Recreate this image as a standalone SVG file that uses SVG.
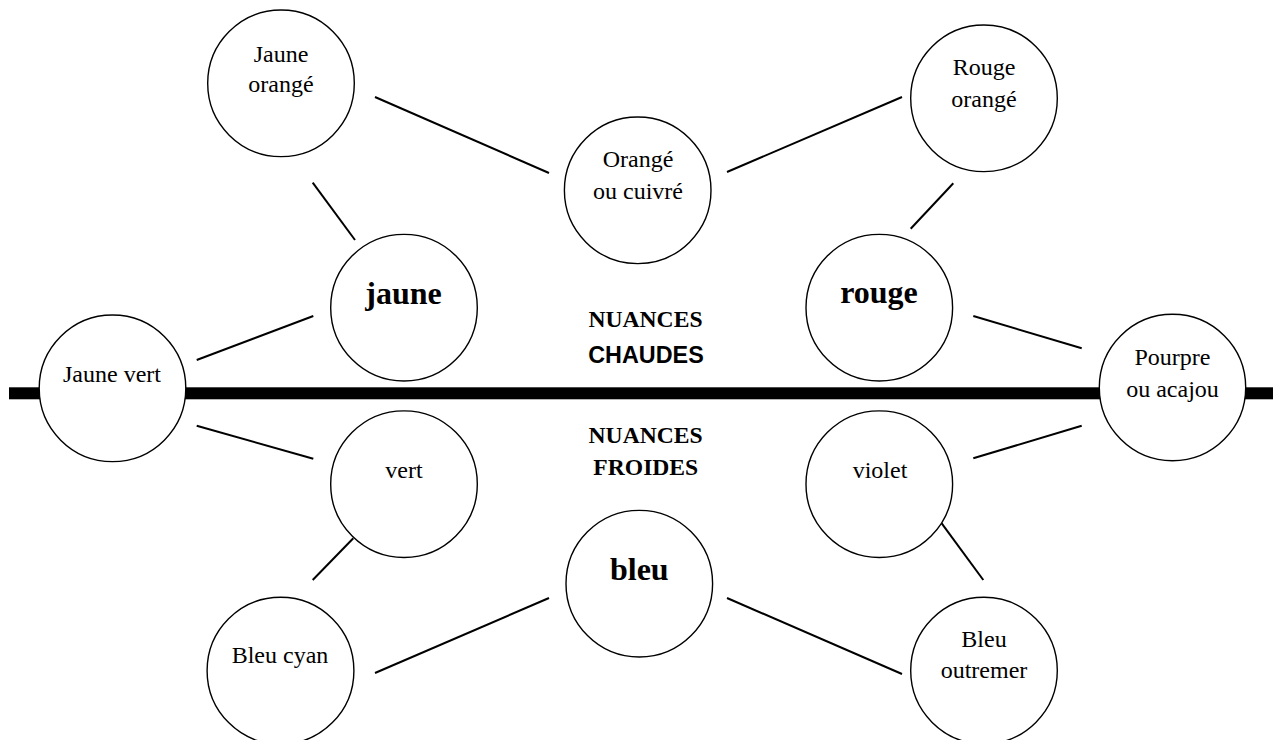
<svg xmlns="http://www.w3.org/2000/svg" width="1276" height="740" viewBox="0 0 1276 740">
<style>
.bg{fill:#fff}
.bar{fill:#000}
.c{fill:#fff;stroke:#000;stroke-width:1.4}
.ln{stroke:#000;stroke-width:2;fill:none}
.t{font-family:"Liberation Serif","Times New Roman",serif;font-size:24px;fill:#000;text-anchor:middle}
.b{font-family:"Liberation Serif","Times New Roman",serif;font-size:32px;font-weight:bold;fill:#000;text-anchor:middle}
.h{font-family:"Liberation Serif","Times New Roman",serif;font-size:23.6px;font-weight:bold;fill:#000;text-anchor:middle}
.s{font-family:"Liberation Sans",Arial,sans-serif;font-size:24.5px;font-weight:bold;fill:#000;text-anchor:middle}
</style>
<rect class="bg" x="0" y="0" width="1276" height="740"/>
<rect id="divider" class="bar" x="9" y="387.3" width="1264" height="12"/>
<g id="connectors">
<line class="ln" x1="375" y1="97" x2="549" y2="173"/>
<line class="ln" x1="312.7" y1="182.7" x2="355" y2="240"/>
<line class="ln" x1="727" y1="172" x2="902" y2="97"/>
<line class="ln" x1="953.3" y1="183.3" x2="910.7" y2="228.7"/>
<line class="ln" x1="313.3" y1="316" x2="196.7" y2="360"/>
<line class="ln" x1="973.3" y1="316" x2="1081.7" y2="348.3"/>
<line class="ln" x1="196.7" y1="425.7" x2="313.3" y2="458.7"/>
<line class="ln" x1="1081.7" y1="425.7" x2="973.3" y2="458.3"/>
<line class="ln" x1="353.3" y1="538.3" x2="312.7" y2="580"/>
<line class="ln" x1="941.7" y1="523.3" x2="983.3" y2="580"/>
<line class="ln" x1="375" y1="673" x2="549" y2="598"/>
<line class="ln" x1="727" y1="598" x2="902" y2="674"/>
</g>
<g id="label-chaudes">
<text class="h" x="645.5" y="326.7">NUANCES</text>
<text class="s" x="646" y="362.7" textLength="115.5" lengthAdjust="spacingAndGlyphs">CHAUDES</text>
</g>
<g id="label-froides">
<text class="h" x="645.6" y="442.7">NUANCES</text>
<text class="h" x="645.8" y="475">FROIDES</text>
</g>
<g id="jaune-orange">
<circle class="c" cx="281" cy="83.3" r="73.3"/>
<text class="t" x="281" y="62">Jaune</text>
<text class="t" x="281" y="92">orangé</text>
</g>
<g id="orange-cuivre">
<circle class="c" cx="637.7" cy="190.3" r="73.3"/>
<text class="t" x="638" y="166.7">Orangé</text>
<text class="t" x="638" y="199">ou cuivré</text>
</g>
<g id="rouge-orange">
<circle class="c" cx="984" cy="98.3" r="73.3"/>
<text class="t" x="984" y="75">Rouge</text>
<text class="t" x="984" y="106.7">orangé</text>
</g>
<g id="jaune">
<circle class="c" cx="404" cy="307.7" r="73.3"/>
<text class="b" x="403.5" y="304">jaune</text>
</g>
<g id="rouge">
<circle class="c" cx="879.3" cy="307.7" r="73.3"/>
<text class="b" x="879" y="303">rouge</text>
</g>
<g id="jaune-vert">
<circle class="c" cx="112.5" cy="388.3" r="73.3"/>
<text class="t" x="112" y="381.7">Jaune vert</text>
</g>
<g id="pourpre-acajou">
<circle class="c" cx="1172.5" cy="387.5" r="73.2"/>
<text class="t" x="1172.5" y="365">Pourpre</text>
<text class="t" x="1172.5" y="397.3">ou acajou</text>
</g>
<g id="vert">
<circle class="c" cx="404" cy="484.2" r="73.3"/>
<text class="t" x="404" y="477.7">vert</text>
</g>
<g id="violet">
<circle class="c" cx="879.3" cy="484.2" r="73.3"/>
<text class="t" x="880" y="477.7">violet</text>
</g>
<g id="bleu">
<circle class="c" cx="639.3" cy="583.7" r="73.3"/>
<text class="b" x="639.3" y="580">bleu</text>
</g>
<g id="bleu-cyan">
<circle class="c" cx="280.5" cy="670.7" r="73.4"/>
<text class="t" x="280" y="663.3">Bleu cyan</text>
</g>
<g id="bleu-outremer">
<circle class="c" cx="984" cy="670.6" r="73.3"/>
<text class="t" x="984" y="646.7">Bleu</text>
<text class="t" x="984" y="678.3">outremer</text>
</g>
</svg>
